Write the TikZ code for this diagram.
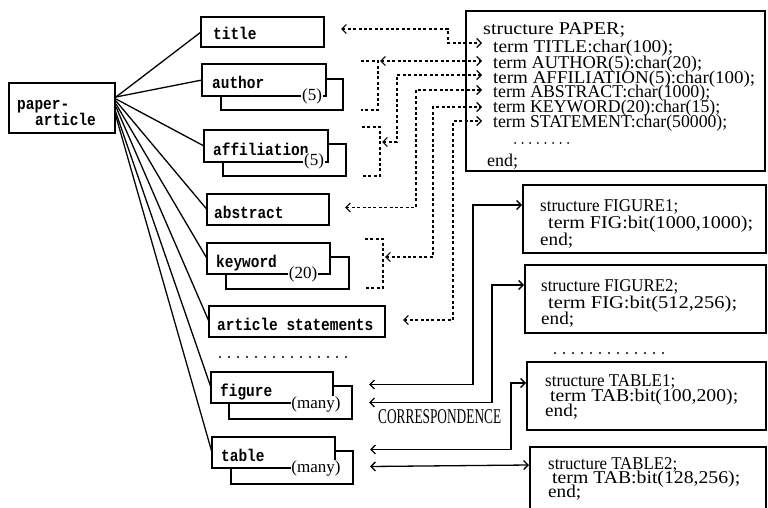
\documentclass[tikz,border=0pt]{standalone}
\usepackage{fontspec}
\usepackage{graphicx}
\setmainfont{Liberation Serif}
\newfontfamily\monof[FakeStretch=0.85]{Liberation Mono}
\newfontfamily\serf{Liberation Serif}
\usetikzlibrary{arrows.meta,calc}
\newcommand\fw[2]{\resizebox{#1}{\height}{#2}}
\tikzset{bb/.tip={Straight Barb[length=4.5pt,width=9pt]}}
\begin{document}
\begin{tikzpicture}[x=1pt,y=-1pt,
  lbox/.style={draw, line width=1.3pt, fill=white, inner sep=0pt, outer sep=0pt, anchor=north west},
  rbox/.style={draw, line width=2.4pt, fill=white, inner sep=0pt, outer sep=0pt, anchor=north west},
  ltxt/.style={inner sep=0pt, anchor=base west, font=\monof\bfseries\fontsize{17}{17}\selectfont},
  rtxt/.style={inner sep=0pt, anchor=base west, font=\serf\fontsize{18}{18}\selectfont},
  ctxt/.style={inner sep=0.6pt, fill=white, font=\serf\fontsize{17}{17}\selectfont},
  fan/.style={line width=1.3pt},
  dl/.style={line width=1.2pt, dash pattern=on 3pt off 2.4pt},
  sl/.style={line width=1.3pt},
  dotrow/.style={line width=2.4pt, line cap=round, dash pattern=on 0pt off 9pt},
]
\clip (0,0) rectangle (768,508);
\fill[white] (0,0) rectangle (768,508);

% ---------- paper-article ----------
\node[lbox, minimum width=106pt, minimum height=50pt] (pa) at (9,83) {};
\node[ltxt] (pat1) at (17,110) {paper-};
\node[ltxt] (pat2) at (35,125) {article};

% ---------- left boxes ----------
\node[lbox, minimum width=123pt, minimum height=30pt] (title) at (201,17) {};
\node[ltxt] (titlet) at (213,40) {title};

\node[lbox, minimum width=122pt, minimum height=31pt] (authorB) at (221,79) {};
\node[lbox, minimum width=124pt, minimum height=32pt] (author) at (202,64) {};
\node[ltxt] (authort) at (212,89) {author};
\node[ctxt] (author5) at (312,96) {(5)};

\node[lbox, minimum width=123pt, minimum height=32pt] (affilB) at (223,144) {};
\node[lbox, minimum width=124pt, minimum height=32pt] (affil) at (204,130) {};
\node[ltxt] (affilt) at (213,155) {affiliation};
\node[ctxt] (affil5) at (314,161) {(5)};

\node[lbox, minimum width=122pt, minimum height=31pt] (abstract) at (207,194) {};
\node[ltxt] (abstractt) at (214,218) {abstract};

\node[lbox, minimum width=123pt, minimum height=32pt] (keywordB) at (226,257) {};
\node[lbox, minimum width=123pt, minimum height=31pt] (keyword) at (207,243) {};
\node[ltxt] (keywordt) at (216,267) {keyword};
\node[ctxt] (keyword20) at (303,274) {(20)};

\node[lbox, minimum width=176pt, minimum height=31pt] (article) at (209,306) {};
\node[ltxt] (articlet) at (217,330) {article statements};

\node[lbox, minimum width=123pt, minimum height=33pt] (figureB) at (229,386) {};
\node[lbox, minimum width=122pt, minimum height=31pt] (figure) at (211,372) {};
\node[ltxt] (figuret) at (220,396) {figure};
\node[ctxt] (figurem) at (316,404) {(many)};

\node[lbox, minimum width=122pt, minimum height=33pt] (tableB) at (231,451) {};
\node[lbox, minimum width=123pt, minimum height=31pt] (table) at (212,437) {};
\node[ltxt] (tablet) at (221,461) {table};
\node[ctxt] (tablem) at (316,468) {(many)};

\draw[dotrow] (220,357) -- (348,357);

% ---------- fan lines ----------
\draw[fan] ($(pa.north east)+(1,14)$) -- (title.west);
\draw[fan] ($(pa.north east)+(1,14)$) -- (author.west);
\draw[fan] ($(pa.north east)+(1,16)$) -- (affil.west);
\draw[fan] ($(pa.north east)+(1,18)$) -- (abstract.west);
\draw[fan] ($(pa.north east)+(1,21)$) -- (keyword.west);
\draw[fan] ($(pa.north east)+(1,24)$) -- (article.west);
\draw[fan] ($(pa.north east)+(0,27)$) -- (figure.west);
\draw[fan] ($(pa.north east)+(0,30)$) -- (table.west);

% ---------- right boxes ----------
\node[rbox, minimum width=299pt, minimum height=160pt] (paper) at (466,11) {};
\node[rtxt] (p0) at (483,35) {\fw{142pt}{structure PAPER;}};
\node[rtxt] (p1) at (493,53) {\fw{180pt}{term TITLE:char(100);}};
\node[rtxt] (p2) at (493,69) {\fw{209pt}{term AUTHOR(5):char(20);}};
\node[rtxt] (p3) at (493,84) {\fw{262pt}{term AFFILIATION(5):char(100);}};
\node[rtxt] (p4) at (493,98) {\fw{217pt}{term ABSTRACT:char(1000);}};
\node[rtxt] (p5) at (493,113) {\fw{227pt}{term KEYWORD(20):char(15);}};
\node[rtxt] (p6) at (493,128) {\fw{234pt}{term STATEMENT:char(50000);}};
\draw[dotrow, line width=2pt, dash pattern=on 0pt off 7.6pt] (515,143) -- (569,143);
\node[rtxt] (p7) at (487,166) {\fw{31pt}{end;}};

\node[rbox, minimum width=243pt, minimum height=68pt] (fig1) at (523,185) {};
\node[rtxt] (f10) at (540,211) {\fw{138pt}{structure FIGURE1;}};
\node[rtxt] (f11) at (548,228) {\fw{205pt}{term FIG:bit(1000,1000);}};
\node[rtxt] (f12) at (540,245) {\fw{33pt}{end;}};

\node[rbox, minimum width=241pt, minimum height=68pt] (fig2) at (525,265) {};
\node[rtxt] (f20) at (541,291) {\fw{137pt}{structure FIGURE2;}};
\node[rtxt] (f21) at (548,308) {\fw{189pt}{term FIG:bit(512,256);}};
\node[rtxt] (f22) at (541,324) {\fw{33pt}{end;}};

\draw[dotrow] (555,353) -- (664,353);

\node[rbox, minimum width=239pt, minimum height=68pt] (tab1) at (527,362) {};
\node[rtxt] (t10) at (545,386) {\fw{130pt}{structure TABLE1;}};
\node[rtxt] (t11) at (550,401) {\fw{188pt}{term TAB:bit(100,200);}};
\node[rtxt] (t12) at (545,416) {\fw{33pt}{end;}};

\node[rbox, minimum width=236pt, minimum height=75pt] (tab2) at (530,447) {};
\node[rtxt] (t20) at (548,469) {\fw{129pt}{structure TABLE2;}};
\node[rtxt] (t21) at (552,483) {\fw{188pt}{term TAB:bit(128,256);}};
\node[rtxt] (t22) at (548,497) {\fw{33pt}{end;}};

% ---------- dotted connectors ----------
\coordinate (tT)  at ($(paper.north west)+(16,32)$);
\coordinate (tAu) at ($(paper.north west)+(16,50)$);
\coordinate (tAf) at ($(paper.north west)+(16,64)$);
\coordinate (tAb) at ($(paper.north west)+(16,79)$);
\coordinate (tK)  at ($(paper.north west)+(16,96)$);
\coordinate (tS)  at ($(paper.north west)+(16,110)$);

\draw[dl,bb-bb] ($(title.east)+(17,-3)$) -| (448,43) -- (tT);

\draw[dl] (361,61) -- (378,61) -- (378,110) -- (361,110);
\draw[dl,bb-bb] (380,61) -- (tAu);

\draw[dl] (362,127) -- (380,127) -- (380,176) -- (362,176);
\draw[dl,bb-bb] (382,142) -| (397,75) -- (tAf);

\draw[dl,bb-bb] ($(abstract.east)+(16,-2)$) -| (416,90) -- (tAb);

\draw[dl] (365,239) -- (383,239) -- (383,288) -- (365,288);
\draw[dl,bb-bb] (385,257) -| (433,107) -- (tK);

\draw[dl,bb-bb] ($(article.east)+(18,-1.5)$) -| (453,121) -- (tS);

% ---------- correspondence connectors ----------
\draw[sl,bb-bb] ($(figureB.east)+(17,-18)$) -| (473,205) -- ($(fig1.north west)+(-1,20)$);
\draw[sl,bb-bb] ($(figureB.east)+(17,0)$) -| (492,285) -- ($(fig2.north west)+(-1,20)$);
\draw[sl,bb-bb] ($(tableB.east)+(17,-18)$) -| (511,383) -- ($(tab1.north west)+(-1,21)$);
\draw[sl,bb-bb] ($(tableB.east)+(17,-1)$) -- ($(tab2.north west)+(-1,18)$);

\node[inner sep=0pt, anchor=west] (corr) at (378,417) {\fw{123pt}{\serf\fontsize{21}{21}\selectfont CORRESPONDENCE}};
\end{tikzpicture}
\end{document}
